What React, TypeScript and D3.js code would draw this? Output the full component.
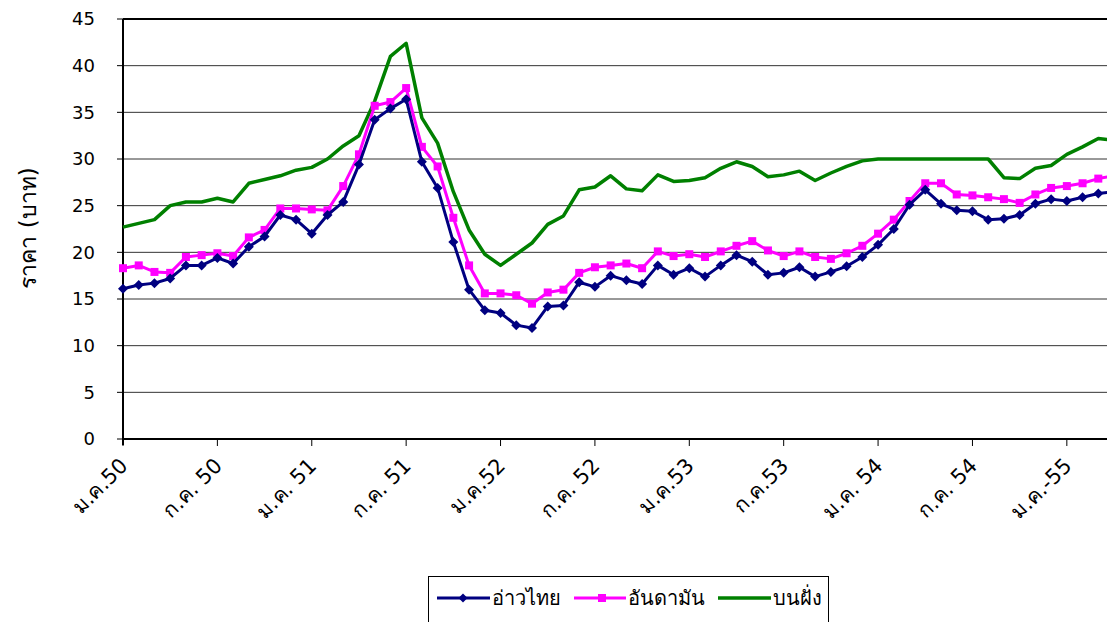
import React from "react";
import * as d3 from "d3";

const tickLabels = ["ม.ค.50", "ก.ค. 50", "ม.ค. 51", "ก.ค. 51", "ม.ค.52", "ก.ค. 52", "ม.ค.53", "ก.ค.53", "ม.ค. 54", "ก.ค. 54", "ม.ค.-55"];
const yTicks = [0, 5, 10, 15, 20, 25, 30, 35, 40, 45];

const gulfThai = [16.1, 16.5, 16.7, 17.2, 18.6, 18.6, 19.4, 18.8, 20.6, 21.7, 24.0, 23.5, 22.0, 24.0, 25.4, 29.4, 34.2, 35.4, 36.4, 29.7, 26.9, 21.1, 16.0, 13.8, 13.5, 12.2, 11.9, 14.2, 14.3, 16.8, 16.3, 17.5, 17.0, 16.6, 18.6, 17.6, 18.3, 17.4, 18.6, 19.7, 19.0, 17.6, 17.8, 18.4, 17.4, 17.9, 18.5, 19.5, 20.8, 22.5, 25.1, 26.7, 25.2, 24.5, 24.4, 23.5, 23.6, 24.0, 25.2, 25.7, 25.5, 25.9, 26.3, 26.5];
const andaman = [18.3, 18.6, 17.9, 17.8, 19.5, 19.7, 19.9, 19.6, 21.6, 22.4, 24.7, 24.7, 24.6, 24.5, 27.1, 30.5, 35.7, 36.1, 37.6, 31.3, 29.2, 23.7, 18.6, 15.6, 15.6, 15.4, 14.5, 15.7, 16.0, 17.8, 18.4, 18.6, 18.8, 18.3, 20.1, 19.6, 19.8, 19.5, 20.1, 20.7, 21.2, 20.2, 19.6, 20.1, 19.5, 19.3, 19.9, 20.7, 22.0, 23.5, 25.5, 27.4, 27.4, 26.2, 26.1, 25.9, 25.7, 25.3, 26.2, 26.9, 27.1, 27.4, 27.9, 28.2];
const onshore = [22.7, 23.1, 23.5, 25.0, 25.4, 25.4, 25.8, 25.4, 27.4, 27.8, 28.2, 28.8, 29.1, 30.0, 31.4, 32.5, 36.2, 41.0, 42.4, 34.4, 31.7, 26.5, 22.4, 19.8, 18.6, 19.8, 21.0, 23.0, 23.9, 26.7, 27.0, 28.2, 26.8, 26.6, 28.3, 27.6, 27.7, 28.0, 29.0, 29.7, 29.2, 28.1, 28.3, 28.7, 27.7, 28.5, 29.2, 29.8, 30.0, 30.0, 30.0, 30.0, 30.0, 30.0, 30.0, 30.0, 28.0, 27.9, 29.0, 29.3, 30.5, 31.3, 32.2, 32.0];

const seriesNames = ["อ่าวไทย", "อันดามัน", "บนฝั่ง"];

const W = 1107, H = 622;
const FONT = "Tahoma, 'DejaVu Sans', 'Noto Sans', sans-serif";

export default function App() {
  const x = d3.scaleLinear().domain([0, 62]).range([123, 1098.3]);
  const y = d3.scaleLinear().domain([0, 45]).range([439, 19]);
  const line = d3.line<number>().x((_, i) => x(i)).y((d) => y(d));
  const xRight = W + 20;

  const diamond = (cx: number, cy: number, r: number) =>
    `M${cx},${cy - r}L${cx + r},${cy}L${cx},${cy + r}L${cx - r},${cy}Z`;

  return (
    <svg width={W} height={H} style={{ position: "absolute", left: 0, top: 0, background: "#fff" }} fontFamily={FONT}>
      <rect x={0} y={0} width={W} height={H} fill="#fff" />
      {/* gridlines */}
      {yTicks.map((t) => (
        <g key={t}>
          <line x1={123} x2={xRight} y1={y(t)} y2={y(t)} stroke={t === 45 ? "#000" : "#333"} strokeWidth={t === 45 ? 2 : 1} />
          <line x1={117} x2={123} y1={y(t)} y2={y(t)} stroke="#000" strokeWidth={1} />
          <text x={95} y={y(t)} dy="0.35em" textAnchor="end" fontSize={18} fill="#000">{t}</text>
        </g>
      ))}
      {/* x axis */}
      <line x1={123} x2={xRight} y1={y(0)} y2={y(0)} stroke="#000" strokeWidth={2} />
      <line x1={123} x2={123} y1={y(45)} y2={y(0) + 6} stroke="#000" strokeWidth={2} />
      {tickLabels.map((lab, k) => {
        const tx = x(k * 6);
        return (
          <g key={lab}>
            <line x1={tx} x2={tx} y1={y(0)} y2={y(0) + 7} stroke="#000" strokeWidth={1} />
            <text transform={`translate(${tx + 6},${467}) rotate(-45)`} textAnchor="end" fontSize={21} fill="#000">{lab}</text>
          </g>
        );
      })}
      {/* y title */}
      <text transform={`translate(36,228) rotate(-90)`} textAnchor="middle" fontSize={23} fill="#000">ราคา (บาท)</text>

      {/* series */}
      <path d={line(onshore) || ""} fill="none" stroke="#008000" strokeWidth={3.5} strokeLinejoin="round" />
      <path d={line(andaman) || ""} fill="none" stroke="#FF00FF" strokeWidth={3} strokeLinejoin="round" />
      {andaman.map((v, i) => (
        <rect key={i} x={x(i) - 4} y={y(v) - 4} width={8} height={8} fill="#FF00FF" />
      ))}
      <path d={line(gulfThai) || ""} fill="none" stroke="#000080" strokeWidth={3} strokeLinejoin="round" />
      {gulfThai.map((v, i) => (
        <path key={i} d={diamond(x(i), y(v), 5)} fill="#000080" />
      ))}

      {/* legend */}
      <rect x={428.5} y={576.5} width={400} height={70} fill="#fff" stroke="#000" strokeWidth={1} />
      <line x1={437} x2={490} y1={598} y2={598} stroke="#000080" strokeWidth={3} />
      <path d={diamond(463, 598, 4.5)} fill="#000080" />
      <text x={492} y={598} dy="0.35em" fontSize={20} fill="#000">{seriesNames[0]}</text>
      <line x1={574} x2={626} y1={598} y2={598} stroke="#FF00FF" strokeWidth={3} />
      <rect x={598} y={594} width={8} height={8} fill="#FF00FF" />
      <text x={628} y={598} dy="0.35em" fontSize={20} fill="#000">{seriesNames[1]}</text>
      <line x1={718} x2={771} y1={598} y2={598} stroke="#008000" strokeWidth={3.5} />
      <text x={773} y={598} dy="0.35em" fontSize={20} fill="#000">{seriesNames[2]}</text>
    </svg>
  );
}
